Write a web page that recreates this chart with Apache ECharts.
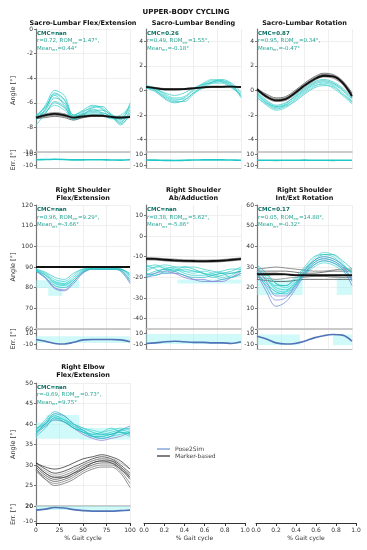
<!DOCTYPE html>
<html><head><meta charset="utf-8">
<script src="https://cdn.jsdelivr.net/npm/echarts@6/dist/echarts.min.js"></script>
<style>html,body{margin:0;padding:0;background:#fff}#c{width:367px;height:550px}</style>
</head><body><div id="c"></div><script>
const gait = [0,10,20,30,40,50,60,70,80,90,100];

// Sacro-Lumbar Flex/Extension
const slFlexPose = [
 [-7.2,-6.2,-5.0,-5.4,-7.0,-6.6,-6.2,-6.4,-7.0,-7.4,-6.0],
 [-7.0,-6.4,-5.3,-5.8,-7.1,-6.8,-6.3,-6.5,-7.2,-7.0,-6.3],
 [-7.3,-6.6,-5.6,-6.0,-7.2,-6.9,-6.6,-6.6,-7.0,-7.6,-6.6],
 [-7.8,-6.9,-5.9,-6.3,-7.3,-7.0,-6.5,-6.8,-7.1,-7.8,-6.9],
 [-7.1,-6.3,-5.4,-6.2,-7.4,-7.0,-6.8,-6.9,-7.3,-7.2,-6.2],
 [-7.0,-6.7,-6.2,-6.6,-7.2,-7.1,-6.9,-7.0,-7.2,-7.5,-6.8],
 [-7.4,-6.5,-5.2,-5.7,-7.0,-6.7,-6.4,-6.3,-6.9,-7.3,-6.4],
 [-7.2,-6.8,-6.0,-6.4,-7.1,-6.9,-6.7,-6.8,-7.1,-7.7,-7.0]
];
const slFlexMarker = [
 [-7.2,-7.0,-6.9,-7.0,-7.2,-7.1,-7.0,-7.05,-7.1,-7.15,-7.1],
 [-7.1,-6.9,-6.8,-6.9,-7.1,-7.0,-7.0,-7.0,-7.1,-7.1,-7.2],
 [-7.3,-7.1,-7.0,-7.1,-7.3,-7.2,-7.1,-7.1,-7.2,-7.2,-7.2],
 [-7.2,-7.0,-6.8,-6.9,-7.15,-7.1,-7.0,-7.0,-7.1,-7.2,-7.15],
 [-7.3,-7.2,-7.1,-7.2,-7.4,-7.2,-7.1,-7.1,-7.2,-7.3,-7.2]
];
const slFlexMarkerMean = [-7.2,-7.0,-6.9,-7.0,-7.2,-7.1,-7.05,-7.05,-7.15,-7.2,-7.15];
const slFlexErr = [0.5,0.8,1.2,0.9,0.2,0.3,0.5,0.4,0.1,-0.2,0.4];

// Sacro-Lumbar Bending
const slBendPose = [
 [0.3,0.0,-0.5,-0.8,-0.6,0.0,0.5,0.8,0.7,0.3,-0.4],
 [0.4,0.2,-0.3,-0.6,-0.5,0.1,0.6,0.9,0.8,0.4,-0.2],
 [0.2,-0.1,-0.7,-1.0,-0.8,-0.2,0.4,0.7,0.8,0.5,-0.5],
 [0.3,0.1,-0.2,-0.4,-0.2,0.2,0.5,0.6,0.6,0.2,-0.3],
 [0.4,0.0,-0.6,-0.9,-0.9,-0.3,0.3,0.7,0.9,0.6,-0.1],
 [0.2,0.1,-0.4,-0.7,-0.7,-0.2,0.2,0.6,0.7,0.4,-0.6]
];
const slBendMarker = [
 [0.3,0.2,0.1,0.1,0.15,0.2,0.25,0.3,0.3,0.3,0.3],
 [0.35,0.25,0.15,0.1,0.1,0.15,0.2,0.25,0.25,0.3,0.25],
 [0.25,0.15,0.05,0.05,0.1,0.2,0.3,0.35,0.35,0.35,0.3]
];
const slBendMarkerMean = [0.3,0.2,0.1,0.1,0.12,0.18,0.25,0.3,0.3,0.32,0.28];
const slBendErr = [0,-0.3,-0.6,-0.8,-0.5,0,0.2,0.3,0.2,0,-0.4];

// Sacro-Lumbar Rotation
const slRotPose = [
 [-0.3,-1.0,-1.4,-1.2,-0.6,0.0,0.5,0.7,0.5,0.0,-0.9],
 [-0.5,-1.2,-1.6,-1.4,-0.8,-0.2,0.3,0.6,0.4,-0.2,-1.0],
 [-0.1,-0.8,-1.2,-1.0,-0.5,0.1,0.6,0.8,0.6,0.1,-0.7],
 [-0.6,-1.1,-1.5,-1.3,-0.9,-0.3,0.2,0.4,0.3,-0.3,-0.9],
 [-0.2,-0.9,-1.3,-1.1,-0.4,0.2,0.7,0.9,0.7,0.2,-0.6],
 [-0.4,-1.0,-1.3,-1.2,-0.7,-0.1,0.4,0.5,0.2,-0.4,-1.1]
];
const slRotMarker = [
 [0.1,-0.5,-0.8,-0.7,-0.2,0.4,0.9,1.15,1.1,0.6,-0.5],
 [0.0,-0.6,-0.9,-0.8,-0.3,0.3,0.8,1.1,1.0,0.5,-0.6],
 [0.2,-0.4,-0.7,-0.6,-0.1,0.5,1.0,1.3,1.2,0.7,-0.3],
 [0.0,-0.5,-0.85,-0.8,-0.3,0.3,0.9,1.2,1.2,0.7,-0.4],
 [0.1,-0.3,-0.6,-0.5,0.0,0.6,1.1,1.4,1.3,0.8,-0.2]
];
const slRotMarkerMean = [0.1,-0.5,-0.8,-0.7,-0.2,0.4,0.9,1.2,1.15,0.65,-0.45];
const slRotErr = [-0.4,-0.5,-0.6,-0.5,-0.4,-0.3,-0.4,-0.5,-0.6,-0.5,-0.4];

// Right Shoulder Flex/Extension
const shFlexPose = [
 [88.5,86,82,81,84,88,89,89,89,89,86],
 [89,87,84,83,86,89,89.3,89.3,89.3,89,85],
 [88,85,81,80,83,87.5,89,89,89,88.5,84],
 [89,87.5,85,84,87,89,89.5,89.5,89.5,89,87],
 [88.5,86.5,83,82,85,88.5,89,89,89,89,86],
 [88,86,82.5,81.5,84,88,89.2,89.2,89.2,88,83]
];
const shFlexPoseBlue = [
 [88,84.5,79.5,78.5,82,87,89,89,89,88,82],
 [88.5,85,80,79,83,87.5,89,89,89,88.5,83]
];
const shFlexMarker = [[90,90,90,90,90,90,90,90,90,90,90]];
const shFlexErr = [-1,-4,-8,-9,-6,-1.5,-1,-1,-1,-1.5,-5];
const shFlexBands = [[0,46,79.8,83.6],[13,28,76,79.8]];
const shFlexErrBands = [[0,100,-7,5]];

// Right Shoulder Ab/Adduction
const shAbdPose = [
 [-15,-14,-16,-17,-16,-17,-18,-19,-18,-17,-15],
 [-17,-15,-14,-15,-17,-18,-17,-18,-20,-19,-16],
 [-19,-17,-16,-15,-15,-16,-18,-20,-19,-18,-17],
 [-14,-16,-18,-17,-15,-15,-16,-17,-18,-20,-18],
 [-18,-19,-17,-16,-18,-19,-19,-18,-17,-16,-16],
 [-16,-15,-15,-16,-17,-17,-18,-19,-21,-20,-19],
 [-20,-18,-16,-17,-19,-20,-20,-19,-18,-18,-17]
];
const shAbdPoseBlue = [
 [-20,-19,-18,-18,-19,-21,-22,-22,-21,-20,-18],
 [-19,-18,-17,-18,-20,-21,-21,-22,-22,-20,-17]
];
const shAbdMarker = [
 [-11,-11,-11.5,-11.8,-12,-12.2,-12.3,-12.2,-12,-11.6,-11.2],
 [-10.5,-10.6,-11,-11.2,-11.5,-11.6,-11.7,-11.6,-11.4,-11.0,-10.6],
 [-11.5,-11.6,-12,-12.3,-12.5,-12.6,-12.7,-12.6,-12.4,-12,-11.6]
];
const shAbdMarkerMean = [-11,-11.1,-11.5,-11.8,-12,-12.1,-12.2,-12.1,-11.9,-11.5,-11.1];
const shAbdErr = [-8,-7,-5,-4,-5,-6,-6,-7,-7,-8,-5];
const shAbdBands = [[33,100,-23,-21]];
const shAbdErrBands = [[0,100,-9,9]];

// Right Shoulder Int/Ext Rotation
const shRotPose = [
 [28,24,20,19,22,28,33,35,34,31,27],
 [30,26,22,20,23,29,34,37,36,32,26],
 [27,22,18,17,21,27,32,34,33,30,28],
 [29,25,21,21,25,30,35,36,35,31,27],
 [26,21,17,18,22,27,31,33,32,29,25],
 [28,24,19,18,21,26,30,32,31,28,24],
 [31,27,22,21,24,29,33,36,36,33,29]
];
const shRotPoseBlue = [
 [27,18,11,13,19,26,31,33,32,29,21],
 [30,23,16,16,21,28,33,35,34,31,24],
 [28,20,14,15,20,27,32,34,33,30,23]
];
const shRotMarker = [
 [27,27,27,26.5,26,26,26,26,26,26,26],
 [29,29.5,30,29.5,29,28.5,28,28,28.5,29,29],
 [24,23.5,23,23,23.5,24,24,24,24,24,24],
 [26,26,26.5,26.5,26,25.5,25.5,25.5,25.5,25,25],
 [28,28,28,28,27.5,27,27,27.5,28,28,28],
 [25,24.5,24,24.5,25,25,25.5,25.5,25,25,25]
];
const shRotMarkerMean = [26.5,26.5,26.5,26.4,26.1,26,26,26,26,26,26];
const shRotErr = [5,0,-7,-9,-8,-4,2,6,8,7,-4];
const shRotBands = [[0,48,16.5,24],[84,100,16.5,25]];
const shRotErrBands = [[0,45,-11,8],[80,100,-11,8]];

// Right Elbow Flex/Extension
const elbPose = [
 [38,40,42,41,39,38.5,37.5,37.5,38,38.5,38],
 [37.5,40.5,42.5,41.5,39.5,38,37,37,37.5,38,37.5],
 [38.5,41,43,42,40,39,38,37.5,37.5,38.5,39],
 [38,39.5,41,40.5,39,38,37.5,38,39,38,37],
 [37,39,41.5,41,39.5,38.5,37,36.5,37,37.5,38],
 [38.5,40.5,42,41,40,39,38.5,38,38.5,39,38.5],
 [39,40,41.5,40.5,39,38,37,37,37.5,38,37.5]
];
const elbPoseBlue = [
 [38,40,42.5,42,40,38.5,37,36.5,37,38.5,39.5],
 [37.5,39.5,41,40.5,39,37.5,36.5,36,36.5,37,38]
];
const elbMarker = [
 [30.5,29,28,28.5,29.5,30.5,31.5,32,31.5,30,28],
 [30,28,27,27.5,28.5,30,31,31.5,31,29.5,27],
 [29.5,27.5,26.5,27,28,29.5,30.5,31,31,29.5,27.5],
 [30,28.5,27.5,28,29,30,31,31.5,31.5,30.5,29],
 [29,27,26,26.5,27.5,29,30,30.5,30.5,29,26.5],
 [28.5,26.5,25.5,26,27,28.5,29.5,30,30,28.5,25.5],
 [30.5,29.5,29,29.5,30.5,31.5,32,32.5,32,31,29],
 [29,26.5,25,25.5,26.5,28,29,29.5,29.5,28,24.5],
 [30,28,27,27,28,29,30.5,31,30.5,29,27]
];
const elbErr = [12,14,17,16,13,11,10,10,10,11,12];
const elbBands = [[0,46,36.4,40.3],[11,46,40.3,42.2],[46,100,36.2,39]];
const elbErrBands = [[0,100,12,20]];

// Annotation values
const cmcVals = ['nan','0.26','0.87','nan','nan','0.17','nan'];
const rVals = ['0.72','0.49','0.95','0.96','0.38','0.05','-0.69'];
const romErrVals = ['1.47','1.55','0.34','9.29','5.62','14.88','0.73'];
const meanErrVals = ['0.44','-0.18','-0.47','-3.66','-5.86','-0.32','9.75'];
const titles = [
 ['Sacro-Lumbar Flex/Extension'],['Sacro-Lumbar Bending'],['Sacro-Lumbar Rotation'],
 ['Right Shoulder','Flex/Extension'],['Right Shoulder','Ab/Adduction'],['Right Shoulder','Int/Ext Rotation'],
 ['Right Elbow','Flex/Extension']
];
const gaitTicks01 = [0,0.2,0.4,0.6,0.8,1.0];

// ---------- layout ----------
const FONT = 'DejaVu Sans';
const cols = [{l:36,w:94},{l:146,w:95},{l:257,w:95}];
const rows = [
 {top:29,h:123,etop:152,eh:16,emin:-14,emax:14,elab:[-10,0,10],ttl:23},
 {top:205,h:124,etop:329,eh:20,emin:-18,emax:18,elab:[-10,0,10],ttl:190},
 {top:383,h:123,etop:506,eh:17,emin:-13,emax:20,elab:[-10,0,10,20],ttl:367}
];
const panels = [
 {row:0,col:0,ymin:-10,ymax:0,yint:2,pose:slFlexPose,blue:[],marker:slFlexMarker,mean:slFlexMarkerMean,err:slFlexErr,bands:[],errBands:[]},
 {row:0,col:1,ymin:-5,ymax:5,ycus:[-4,-2,0,2,4],pose:slBendPose,blue:[],marker:slBendMarker,mean:slBendMarkerMean,err:slBendErr,bands:[],errBands:[]},
 {row:0,col:2,ymin:-5,ymax:5,ycus:[-4,-2,0,2,4],pose:slRotPose,blue:[],marker:slRotMarker,mean:slRotMarkerMean,err:slRotErr,bands:[],errBands:[]},
 {row:1,col:0,ymin:60,ymax:120,yint:10,pose:shFlexPose,blue:shFlexPoseBlue,marker:[],mean:shFlexMarker[0],err:shFlexErr,bands:shFlexBands,errBands:shFlexErrBands},
 {row:1,col:1,ymin:-45,ymax:15,ycus:[-40,-30,-20,-10,0,10],pose:shAbdPose,blue:shAbdPoseBlue,marker:shAbdMarker,mean:shAbdMarkerMean,err:shAbdErr,bands:shAbdBands,errBands:shAbdErrBands},
 {row:1,col:2,ymin:0,ymax:60,yint:10,pose:shRotPose,blue:shRotPoseBlue,marker:shRotMarker,mean:shRotMarkerMean,err:shRotErr,bands:shRotBands,errBands:shRotErrBands},
 {row:2,col:0,ymin:20,ymax:50,yint:5,pose:elbPose,blue:elbPoseBlue,marker:elbMarker,mean:null,err:elbErr,bands:elbBands,errBands:elbErrBands}
];

const cyanCols = ['#1fc8c8','#3ad2cc','#17b9b9','#2cc4c0'];
const blueCols = ['#5b7bd5','#8b6fd0','#6a86d8'];
const markCols = ['#222','#666','#3a3a3a','#999','#444','#777'];
const grids = [], xAxes = [], yAxes = [], series = [], graphics = [];

function lineSeries(gi, arr, color, width, opacity, name, z){
  return {type:'line', name: name, xAxisIndex:gi, yAxisIndex:gi, data: gait.map((x,i)=>[x,arr[i]]),
    smooth:0.35, symbol:'none', showSymbol:false, silent:true, z: z||2,
    lineStyle:{color:color, width:width, opacity:opacity}, itemStyle:{color:color}};
}
function bandSeries(gi, bands){
  return {type:'line', xAxisIndex:gi, yAxisIndex:gi, data:[], silent:true, z:1,
    markArea:{silent:true, itemStyle:{color:'rgba(150,242,242,0.45)'},
      data: bands.map(b=>[{xAxis:b[0],yAxis:b[2]},{xAxis:b[1],yAxis:b[3]}])}};
}
const axLabel = {fontSize:6, color:'#333', fontFamily:FONT};

panels.forEach((p,k)=>{
  const c = cols[p.col], r = rows[p.row];
  const gi = 2*k, ge = 2*k+1;
  grids.push({left:c.l, top:r.top, width:c.w, height:r.h});
  grids.push({left:c.l, top:r.etop, width:c.w, height:r.eh});
  // main axes
  xAxes.push({gridIndex:gi, type:'value', min:0, max:100, interval:25,
    axisLabel:{show:false}, axisTick:{show:false},
    axisLine:{show:true, onZero:false, lineStyle:{color:'#bbb', width:1.5}},
    splitLine:{show:true, lineStyle:{color:'#ebebeb', width:0.8}}});
  const y = {gridIndex:gi, type:'value', min:p.ymin, max:p.ymax,
    axisLine:{show:true, lineStyle:{color:'#777', width:1.2}},
    axisTick:{show:true, length:2, lineStyle:{color:'#777'}},
    axisLabel:Object.assign({margin:3, hideOverlap:false}, axLabel),
    splitLine:{show:true, lineStyle:{color:'#ebebeb', width:0.8}}};
  if (p.ycus){ y.axisLabel.customValues = p.ycus; y.axisTick.customValues = p.ycus; y.interval = 2*(p.ycus[1]-p.ycus[0]); }
  else y.interval = p.yint;
  if (p.col===0){ Object.assign(y,{name:'Angle [°]', nameLocation:'middle', nameGap:19, nameRotate:90,
    nameTextStyle:{fontSize:6.5, color:'#333', fontFamily:FONT}}); }
  yAxes.push(y);
  // error axes
  const last = (p.row===2);
  xAxes.push({gridIndex:ge, type:'value', min:0, max:100, interval:25,
    axisLabel: last ? Object.assign({show:true, margin:4}, axLabel) : {show:false},
    axisTick: last ? {show:true, length:3, lineStyle:{color:'#333'}} : {show:false},
    axisLine:{show:true, onZero:false, lineStyle:{color: last ? '#333' : '#bbb', width:1}},
    splitLine:{show:true, lineStyle:{color:'#ebebeb', width:0.8}},
    name: last ? '% Gait cycle' : '', nameLocation:'middle', nameGap:12,
    nameTextStyle:{fontSize:6, color:'#333', fontFamily:FONT}});
  const ye = {gridIndex:ge, type:'value', min:r.emin, max:r.emax,
    axisLine:{show:true, lineStyle:{color:'#777', width:1.2}},
    axisTick:{show:true, length:2, customValues:r.elab, lineStyle:{color:'#777'}},
    axisLabel:Object.assign({margin:3, customValues:r.elab, hideOverlap:false, showMinLabel:true, showMaxLabel:true}, axLabel),
    splitLine:{show:false}};
  if (p.col===0){ Object.assign(ye,{name:'Err. [°]', nameLocation:'middle', nameGap:19, nameRotate:90,
    nameTextStyle:{fontSize:6.5, color:'#333', fontFamily:FONT}}); }
  yAxes.push(ye);

  // bands
  if (p.bands.length) series.push(bandSeries(gi, p.bands));
  if (p.errBands.length) series.push(bandSeries(ge, p.errBands));
  // marker-based
  p.marker.forEach((a,i)=>series.push(lineSeries(gi, a, markCols[i%markCols.length], 0.8, 0.9, 'Marker-based', 3)));
  if (p.mean) series.push(lineSeries(gi, p.mean, '#111', 1.8, 1, 'Marker-based', 4));
  // pose2sim
  p.blue.forEach((a,i)=>series.push(lineSeries(gi, a, blueCols[i%blueCols.length], 0.8, 0.85, 'Pose2Sim', 3)));
  p.pose.forEach((a,i)=>series.push(lineSeries(gi, a, cyanCols[i%cyanCols.length], 0.8, 0.85, 'Pose2Sim', 3)));
  // error
  series.push(lineSeries(ge, p.err, p.row===0 ? '#1fc8c8' : '#4f74b8', 1.6, 1, 'err', 3));

  // titles
  const cx = c.l + c.w/2;
  const tl = titles[k];
  tl.forEach((t,j)=>graphics.push({type:'text', x:cx, y:r.ttl + j*8, silent:true,
    style:{text:t, fontSize:6.5, fontWeight:'bold', fontFamily:FONT, fill:'#111', align:'center', verticalAlign:'middle'}}));
  // annotation
  graphics.push({type:'text', x:c.l+1, y:(p.row===0? 29.5 : p.row===1 ? 206 : 383.5), silent:true, z:100,
    style:{text:'{b|CMC='+cmcVals[k]+'}\n{n|r='+rVals[k]+', ROM}{s|err}{n|='+romErrVals[k]+'°,}\n{n|Mean}{s|err}{n|='+meanErrVals[k]+'°}',
      fontFamily:FONT, align:'left', verticalAlign:'top',
      rich:{b:{fontWeight:'bold', fontSize:5.5, fill:'#0b6e63', lineHeight:7.6, fontFamily:FONT},
            n:{fontSize:5.5, fill:'#24a696', lineHeight:7.6, fontFamily:FONT},
            s:{fontSize:3.8, fill:'#24a696', lineHeight:7.6, fontFamily:FONT, verticalAlign:'bottom'}}}});
});

// empty axes (bottom row, col 1 & 2)
[{l:144,w:101},{l:256,w:100}].forEach(e=>{
  const gi = grids.length;
  grids.push({left:e.l, top:383, width:e.w, height:140});
  xAxes.push({gridIndex:gi, type:'value', min:gaitTicks01[0], max:gaitTicks01[gaitTicks01.length-1], interval:0.2,
    axisLine:{show:true, onZero:false, lineStyle:{color:'#333', width:1}},
    axisTick:{show:true, length:3, lineStyle:{color:'#333'}},
    axisLabel:Object.assign({margin:4, formatter:v=>v.toFixed(1)}, axLabel),
    splitLine:{show:false},
    name:'% Gait cycle', nameLocation:'middle', nameGap:12, nameTextStyle:{fontSize:6, color:'#333', fontFamily:FONT}});
  yAxes.push({gridIndex:gi, type:'value', show:false, splitLine:{show:false}});
});

graphics.push({type:'text', x:186, y:12, silent:true,
  style:{text:'UPPER-BODY CYCLING', fontSize:7, fontWeight:'bold', fontFamily:FONT, fill:'#111', align:'center', verticalAlign:'middle'}});

const chart = echarts.init(document.getElementById('c'), null, {renderer:'canvas'});
chart.setOption({
  animation:false,
  backgroundColor:'#fff',
  grid:grids, xAxis:xAxes, yAxis:yAxes, series:series, graphic:graphics,
  legend:{left:152, top:441, orient:'vertical', itemGap:1, itemWidth:13, itemHeight:1.5, icon:'rect',
    selectedMode:false, textStyle:{fontSize:6, color:'#444', fontFamily:FONT},
    data:[{name:'Pose2Sim', itemStyle:{color:'#86a6e0'}},{name:'Marker-based', itemStyle:{color:'#555'}}]}
});
</script></body></html>
